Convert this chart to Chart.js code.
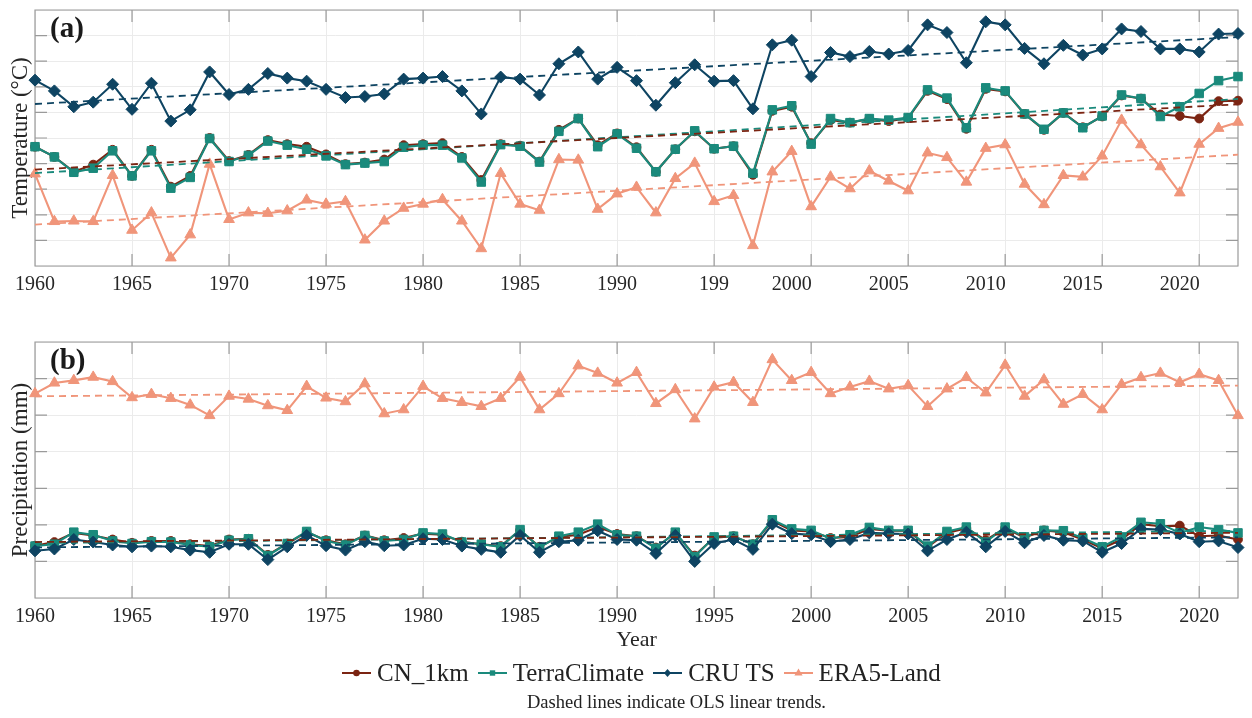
<!DOCTYPE html>
<html>
<head>
<meta charset="utf-8">
<script src="https://cdn.jsdelivr.net/npm/chart.js@4.4.1/dist/chart.umd.min.js"></script>
<style>
html,body{margin:0;padding:0;background:#fff;}
body{width:1252px;height:718px;position:relative;overflow:hidden;font-family:"Liberation Serif","Times New Roman",serif;color:#222;}
.panel{position:absolute;left:0;width:1252px;}
#wa{top:0;height:300px;}
#wb{top:330px;height:330px;}
.plabel{position:absolute;left:50px;font-weight:bold;font-size:29px;line-height:29px;color:#1a1a1a;}
#legend{position:absolute;left:342px;top:658px;height:30px;display:flex;align-items:center;font-size:25px;line-height:30px;color:#222;white-space:nowrap;}
#legend .li{display:flex;align-items:center;margin-right:9px;}
#legend svg{margin-right:6px;}
#caption{position:absolute;left:527px;top:691px;font-size:18.5px;line-height:22px;color:#222;white-space:nowrap;}
</style>
</head>
<body>
<div class="panel" id="wa"><canvas id="ca"></canvas></div>
<div class="panel" id="wb"><canvas id="cb"></canvas></div>
<div class="plabel" style="top:13px;">(a)</div>
<div class="plabel" style="top:345px;">(b)</div>
<div id="legend"></div>
<div id="caption">Dashed lines indicate OLS linear trends.</div>
<script>
// ---------- data ----------
const years = Array.from({length: 63}, (_, i) => 1960 + i);
const gridYears = [1960,1965,1970,1975,1980,1985,1990,1995,2000,2005,2010,2015,2020];
const tickYearsA = [1960,1965,1970,1975,1980,1985,1990,1995,1999,2004,2009,2014,2019];
const tickLabelsA = ['1960','1965','1970','1975','1980','1985','1990','199','2000','2005','2010','2015','2020'];
const tickYearsB = [1960,1965,1970,1975,1980,1985,1990,1995,2000,2005,2010,2015,2020];
const tickLabelsB = ['1960','1965','1970','1975','1980','1985','1990','1995','2000','2005','2010','2015','2020'];
const tempTicks = [5,5.5,6,6.5,7,7.5,8,8.5,9,9.5,10];
const precTicks = [400,500,600,700,800,900,1000,1100];

const seriesNames = ['CN_1km','TerraClimate','CRU TS','ERA5-Land'];

const tempCN = [
 7.33,7.13,6.84,6.98,7.27,6.76,7.27,6.55,6.76,7.50,
 7.05,7.17,7.46,7.38,7.33,7.18,6.99,7.02,7.08,7.36,
 7.38,7.40,7.13,6.68,7.38,7.35,7.04,7.66,7.88,7.36,
 7.59,7.32,6.84,7.28,7.63,7.29,7.34,6.78,8.03,8.11,
 7.40,7.85,7.80,7.87,7.83,7.89,8.42,8.26,7.68,8.46,
 8.41,7.97,7.66,7.99,7.71,7.92,8.33,8.27,7.96,7.93,
 7.88,8.22,8.23];
const tempTerra = [
 7.33,7.13,6.83,6.91,7.25,6.76,7.25,6.52,6.73,7.49,
 7.04,7.16,7.44,7.36,7.28,7.15,6.98,7.01,7.04,7.32,
 7.36,7.36,7.11,6.64,7.37,7.34,7.03,7.63,7.88,7.33,
 7.58,7.30,6.84,7.28,7.64,7.29,7.34,6.81,8.05,8.13,
 7.38,7.88,7.80,7.88,7.85,7.90,8.44,8.28,7.70,8.48,
 8.42,7.97,7.67,7.99,7.70,7.93,8.34,8.27,7.92,8.11,
 8.37,8.62,8.70];
const tempCRU = [
 8.63,8.42,8.11,8.20,8.55,8.06,8.57,7.83,8.05,8.79,
 8.35,8.45,8.76,8.67,8.61,8.45,8.29,8.31,8.36,8.65,
 8.67,8.70,8.42,7.97,8.69,8.65,8.34,8.95,9.18,8.65,
 8.88,8.62,8.14,8.58,8.93,8.61,8.62,8.07,9.32,9.41,
 8.70,9.17,9.09,9.19,9.14,9.21,9.71,9.56,8.97,9.77,
 9.71,9.25,8.95,9.31,9.12,9.24,9.63,9.58,9.24,9.24,
 9.18,9.53,9.54];
const tempERA5 = [
 6.80,5.87,5.88,5.87,6.77,5.70,6.04,5.16,5.61,6.99,
 5.91,6.04,6.03,6.08,6.29,6.21,6.26,5.51,5.88,6.13,
 6.21,6.30,5.88,5.34,6.81,6.21,6.09,7.08,7.07,6.11,
 6.41,6.54,6.04,6.71,7.01,6.26,6.38,5.40,6.84,7.24,
 6.16,6.74,6.51,6.86,6.66,6.47,7.21,7.12,6.64,7.30,
 7.37,6.60,6.20,6.77,6.74,7.15,7.85,7.37,6.94,6.43,
 7.38,7.69,7.81];

const precCN = [
 543,553,578,571,560,551,556,556,547,542,
 560,562,518,549,580,558,547,571,558,564,
 576,573,554,547,542,585,540,567,573,594,
 575,569,538,578,516,565,569,547,611,585,
 582,564,567,589,584,584,540,578,591,558,
 591,565,585,580,560,536,560,602,596,598,
 569,571,560];
const precTerra = [
 542,547,580,573,556,549,554,553,545,540,
 558,562,516,549,582,556,545,571,556,560,
 578,575,553,547,540,587,538,569,580,602,
 573,569,536,580,513,567,569,547,614,589,
 585,562,573,593,585,585,542,582,594,553,
 594,567,585,584,564,540,567,607,603,578,
 594,587,578];
const precCRU = [
 529,534,560,553,545,540,542,540,531,525,
 547,547,505,540,571,543,531,554,543,545,
 562,560,542,533,525,571,525,554,558,584,
 560,558,522,571,500,549,560,533,602,576,
 573,554,560,578,576,575,529,560,580,540,
 582,551,571,558,556,525,549,589,587,575,
 554,556,538];
const precERA5 = [
 959,988,995,1004,992,948,957,946,928,899,
 952,944,926,913,979,947,937,986,904,915,
 979,946,935,924,946,1004,915,959,1035,1015,
 988,1017,932,970,890,977,990,935,1052,995,
 1017,959,977,993,972,981,924,972,1003,961,
 1037,952,997,930,957,915,984,1003,1015,990,
 1012,995,899];

// ---------- style ----------
const FAMILY = '"Liberation Serif", "Times New Roman", serif';
Chart.defaults.font.family = FAMILY;
const COLORS = ['#7B2412', '#1A8A7C', '#0E4462', '#F0957A'];
const STYLES = ['circle', 'rect', 'rectRot', 'triangle'];
const RADII = [4.4, 6, 6, 6.2];
const ORDERS = [4, 3, 2, 1];
const GRID = '#ebebeb', FRAME = '#9a9a9a', TEXT = '#262626';

function ols(xs, ys) {
  const n = xs.length;
  let mx = 0, my = 0;
  for (let i = 0; i < n; i++) { mx += xs[i]; my += ys[i]; }
  mx /= n; my /= n;
  let sxy = 0, sxx = 0;
  for (let i = 0; i < n; i++) { sxy += (xs[i] - mx) * (ys[i] - my); sxx += (xs[i] - mx) ** 2; }
  const b = sxy / sxx, a = my - b * mx;
  return [{x: xs[0], y: a + b * xs[0]}, {x: xs[n - 1], y: a + b * xs[n - 1]}];
}

function buildDatasets(valueLists) {
  const ds = [];
  valueLists.forEach((vals, i) => {
    ds.push({
      label: seriesNames[i],
      data: years.map((yr, k) => ({x: yr, y: vals[k]})),
      borderColor: COLORS[i], backgroundColor: COLORS[i],
      pointBackgroundColor: COLORS[i], pointBorderColor: COLORS[i],
      borderWidth: 2.1, pointStyle: STYLES[i], pointRadius: RADII[i], pointBorderWidth: 1,
      tension: 0, order: ORDERS[i], clip: false, fill: false
    });
    ds.push({
      label: seriesNames[i] + ' trend',
      data: ols(years, vals),
      borderColor: COLORS[i], borderWidth: 1.8, borderDash: [7, 5],
      pointRadius: 0, order: 0, clip: false, fill: false
    });
  });
  return ds;
}

const framePlugin = {
  id: 'frameTicks',
  beforeDatasetsDraw(chart) {
    const {ctx, chartArea: a} = chart;
    const x = chart.scales.x, y = chart.scales.y;
    const L = 12;
    ctx.save();
    ctx.strokeStyle = FRAME;
    ctx.lineWidth = 1.2;
    ctx.beginPath();
    ctx.rect(a.left, a.top, a.right - a.left, a.bottom - a.top);
    gridYears.forEach(v => {
      const px = x.getPixelForValue(v);
      ctx.moveTo(px, a.bottom); ctx.lineTo(px, a.bottom - L);
      ctx.moveTo(px, a.top); ctx.lineTo(px, a.top + L);
    });
    y.ticks.forEach(t => {
      const py = y.getPixelForValue(t.value);
      ctx.moveTo(a.left, py); ctx.lineTo(a.left + L, py);
      ctx.moveTo(a.right, py); ctx.lineTo(a.right - L, py);
    });
    ctx.stroke();
    ctx.restore();
  }
};

function makeChart(id, valueLists, cfg) {
  return new Chart(document.getElementById(id), {
    type: 'line',
    data: {datasets: buildDatasets(valueLists)},
    plugins: [framePlugin],
    options: {
      responsive: true, maintainAspectRatio: false, animation: false,
      layout: {padding: {top: cfg.padTop, right: 14, left: 0, bottom: 0}},
      plugins: {legend: {display: false}, tooltip: {enabled: false}},
      scales: {
        x: {
          type: 'linear', min: 1960, max: 2022,
          afterBuildTicks: s => { s.ticks = years.map(v => ({value: v})); },
          afterFit: s => { s.height = cfg.xHeight; },
          grid: {
            color: c => (c.tick && gridYears.includes(c.tick.value)) ? GRID : 'rgba(0,0,0,0)',
            drawTicks: false, lineWidth: 1
          },
          border: {display: false},
          ticks: {
            autoSkip: false, maxRotation: 0, minRotation: 0, padding: 7, color: TEXT,
            font: {size: 20, family: FAMILY},
            callback: v => { const i = cfg.tickYears.indexOf(v); return i >= 0 ? cfg.tickLabels[i] : ''; }
          },
          title: cfg.xTitle ? {display: true, text: cfg.xTitle, color: TEXT, font: {size: 22, family: FAMILY}, padding: {top: 0, bottom: 7}} : {display: false}
        },
        y: {
          type: 'linear', min: cfg.yTicks[0], max: cfg.yTicks[cfg.yTicks.length - 1],
          afterBuildTicks: s => { s.ticks = cfg.yTicks.map(v => ({value: v})); },
          afterFit: s => { s.width = 35; },
          grid: {color: GRID, drawTicks: false, lineWidth: 1},
          border: {display: false},
          ticks: {display: false},
          title: {display: true, text: cfg.yTitle, color: TEXT, font: {size: 23, family: FAMILY}, padding: {top: 7, bottom: 0}}
        }
      }
    }
  });
}

makeChart('ca', [tempCN, tempTerra, tempCRU, tempERA5], {
  padTop: 10, xHeight: 34, tickYears: tickYearsA, tickLabels: tickLabelsA,
  yTicks: tempTicks, yTitle: 'Temperature (°C)', xTitle: null
});
makeChart('cb', [precCN, precTerra, precCRU, precERA5], {
  padTop: 12, xHeight: 62, tickYears: tickYearsB, tickLabels: tickLabelsB,
  yTicks: precTicks, yTitle: 'Precipitation (mm)', xTitle: 'Year'
});

// ---------- legend (HTML) ----------
function symbolSVG(i) {
  const c = COLORS[i];
  let m = '';
  if (STYLES[i] === 'circle') m = `<circle cx="14.5" cy="7" r="3.3" fill="${c}"/>`;
  else if (STYLES[i] === 'rect') m = `<rect x="11.8" y="4.3" width="5.4" height="5.4" fill="${c}"/>`;
  else if (STYLES[i] === 'rectRot') m = `<polygon points="14.5,3 18,7 14.5,11 11,7" fill="${c}"/>`;
  else m = `<polygon points="14.5,2.6 18.6,9.6 10.4,9.6" fill="${c}"/>`;
  return `<svg width="29" height="14" viewBox="0 0 29 14"><line x1="0" y1="7" x2="29" y2="7" stroke="${c}" stroke-width="2"/>${m}</svg>`;
}
document.getElementById('legend').innerHTML = seriesNames.map((n, i) =>
  `<span class="li">${symbolSVG(i)}<span>${n}</span></span>`).join('');
</script>
</body>
</html>
